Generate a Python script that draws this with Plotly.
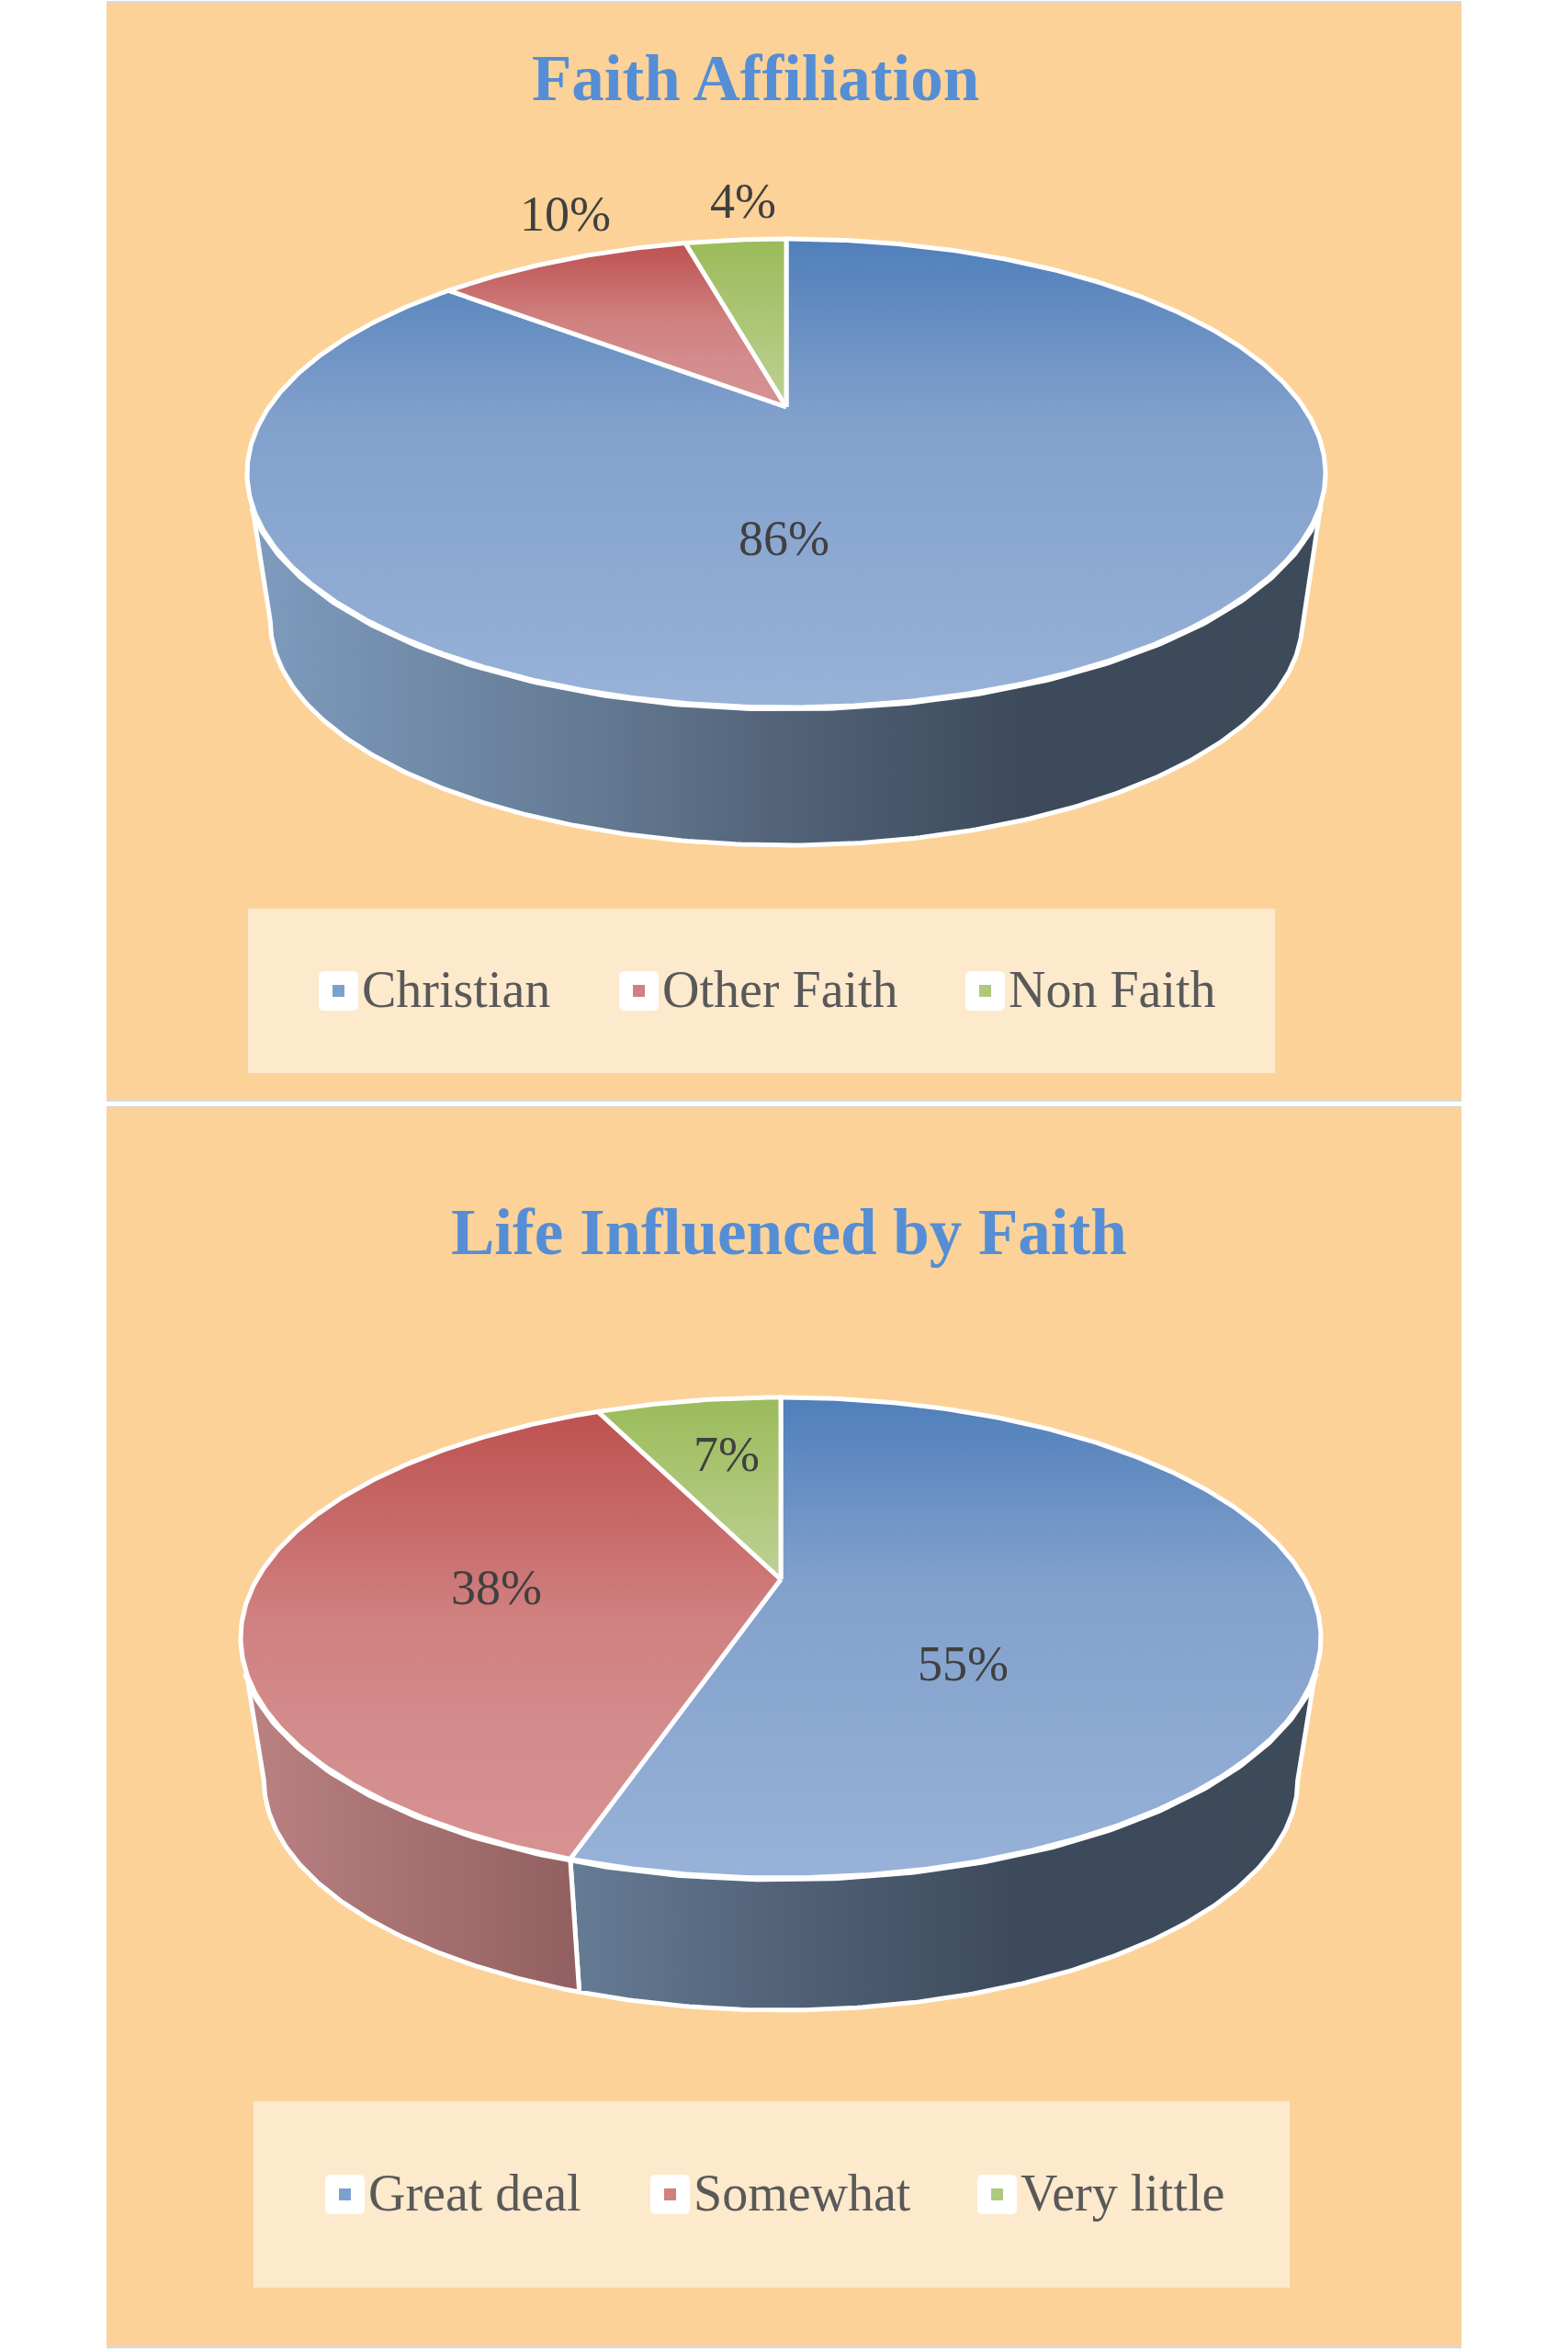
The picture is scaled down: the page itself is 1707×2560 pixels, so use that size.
"""
Two Excel-style 3D pies (Faith Affiliation, Life Influenced by Faith).
Plotly has no tilted pie, so the wedges are scatter fills worked out from the values.
"""

import math

import numpy as np
import plotly.graph_objects as go


# ── Data ──────────────────────────────────────────────────────────────────────

FAITH_TITLE = "Faith Affiliation"
FAITH_LABELS = ["Christian", "Other Faith", "Non Faith"]
FAITH_VALUES = [86, 10, 4]

INFLUENCE_TITLE = "Life Influenced by Faith"
INFLUENCE_LABELS = ["Great deal", "Somewhat", "Very little"]
INFLUENCE_VALUES = [55, 38, 7]


# ── Colours ───────────────────────────────────────────────────────────────────

PANEL = "#fcd298"
LEGEND_BG = "#fde9cc"
TITLE_COLOR = "#558ed5"
LABEL_COLOR = "#404040"
LEGEND_TEXT = "#595959"
FONT = "Liberation Serif"

TOP_SCALES = [
    [[0, "#4f7fba"], [0.38, "#81a0cc"], [1, "#98b2d8"]],
    [[0, "#bd5250"], [0.25, "#c76a69"], [0.45, "#d07f7f"], [0.7, "#d38b8b"], [1, "#d79292"]],
    [[0, "#9bbb59"], [1, "#bdd195"]],
]
WALL_SCALES = [
    [[0, "#7f9cbf"], [0.32, "#647a93"], [0.5, "#526278"], [0.72, "#3c4a5b"], [1, "#3c4a5a"]],
    [[0, "#bb8282"], [0.31, "#926060"], [1, "#6f4848"]],
    [[0, "#7f9450"], [1, "#4f5c32"]],
]
SWATCHES = ["#7ea0cf", "#d27f7f", "#adc97c"]


# ── Layout (page pixels) ──────────────────────────────────────────────────────

W, H = 1707, 2560
PANEL_X = (116, 1591)

FAITH_PIE = dict(cx=856, hub_y=443, top_y=260, bottom_y=770, rx=587, floor_y=920)
INFLUENCE_PIE = dict(cx=850, hub_y=1719, top_y=1521, bottom_y=2044, rx=588, floor_y=2188)
WALL_SCALE = 0.957   # the lower rim is further from the camera


def ring(pie, deg):
    """Perspective view of a unit circle; deg runs clockwise from 12 o'clock."""
    up = pie["hub_y"] - pie["top_y"]
    down = pie["bottom_y"] - pie["hub_y"]
    k = (down - up) / (down + up)
    b = up * (1 + k)
    a = pie["rx"] * math.sqrt(1 - k * k)
    t = np.radians(deg)
    den = 1 + k * np.cos(t)
    return pie["cx"] + a * np.sin(t) / den, pie["hub_y"] - b * np.cos(t) / den, k


def lower_ring(pie, deg):
    x, y, _ = ring(pie, deg)
    shift = pie["floor_y"] - WALL_SCALE * pie["bottom_y"]
    return pie["cx"] + WALL_SCALE * (x - pie["cx"]), WALL_SCALE * y + shift


def add_pie(fig, pie, labels, values):
    total = sum(values)
    edges = np.cumsum([0] + values) / total * 360
    _, _, k = ring(pie, np.array([0.0]))
    right = math.degrees(math.acos(-k))
    wall_from, wall_to = right, 360 - right

    # walls first, the top faces sit over their upper edge
    for i, label in enumerate(labels):
        start, end = max(edges[i], wall_from), min(edges[i + 1], wall_to)
        if start >= end:
            continue
        deg = np.linspace(start, end, int(end - start) * 2 + 2)
        x1, y1, _ = ring(pie, deg)
        x2, y2 = lower_ring(pie, deg)
        fig.add_trace(go.Scatter(
            x=np.r_[x1, x2[::-1], x1[0]],
            y=np.r_[y1, y2[::-1], y1[0]],
            mode="lines",
            line=dict(color="white", width=5),
            fill="toself",
            fillgradient=dict(type="horizontal", colorscale=WALL_SCALES[i],
                              start=pie["cx"] - pie["rx"], stop=pie["cx"] + pie["rx"]),
            hoverinfo="skip",
            showlegend=False,
        ))

    # the front rim reads heavier than the back one; stop short of the silhouette
    deg = np.linspace(wall_from + 8, wall_to - 8, 300)
    x, y, _ = ring(pie, deg)
    fig.add_trace(go.Scatter(x=x, y=y, mode="lines", line=dict(color="white", width=9),
                             hoverinfo="skip", showlegend=False))

    for i, label in enumerate(labels):
        deg = np.linspace(edges[i], edges[i + 1], int(edges[i + 1] - edges[i]) * 2 + 2)
        x, y, _ = ring(pie, deg)
        fig.add_trace(go.Scatter(
            x=np.r_[pie["cx"], x, pie["cx"]],
            y=np.r_[pie["hub_y"], y, pie["hub_y"]],
            mode="lines",
            line=dict(color="white", width=5),
            fill="toself",
            fillgradient=dict(type="vertical", colorscale=TOP_SCALES[i],
                              start=float(min(y.min(), pie["hub_y"])),
                              stop=float(max(y.max(), pie["hub_y"]))),
            name=label,
            text=f"{label}: {values[i]}%",
            hoverinfo="text",
            showlegend=False,
        ))


def rounded_rect(x0, y0, x1, y1, r=6):
    return (f"M{x0 + r},{y0} L{x1 - r},{y0} Q{x1},{y0} {x1},{y0 + r} "
            f"L{x1},{y1 - r} Q{x1},{y1} {x1 - r},{y1} "
            f"L{x0 + r},{y1} Q{x0},{y1} {x0},{y1 - r} "
            f"L{x0},{y0 + r} Q{x0},{y0} {x0 + r},{y0} Z")


def add_legend(fig, box, labels, chip_xs, chip_y):
    fig.add_shape(type="rect", x0=box[0], x1=box[1], y0=box[2], y1=box[3],
                  fillcolor=LEGEND_BG, line_width=0, layer="below")
    for i, label in enumerate(labels):
        cx = chip_xs[i]
        fig.add_shape(type="path", path=rounded_rect(cx, chip_y, cx + 43, chip_y + 43),
                      fillcolor="white", line_width=0)
        fig.add_shape(type="rect", x0=cx + 15, x1=cx + 28, y0=chip_y + 15, y1=chip_y + 28,
                      fillcolor=SWATCHES[i], line_width=0)
        fig.add_annotation(x=cx + 45, y=chip_y + 20, text=label, showarrow=False,
                           xanchor="left", yanchor="middle",
                           font=dict(family=FONT, size=56, color=LEGEND_TEXT))


def add_labels(fig, values, positions):
    for value, (x, y) in zip(values, positions):
        fig.add_annotation(x=x, y=y, text=f"{value}%", showarrow=False,
                           font=dict(family=FONT, size=54, color=LABEL_COLOR))


# ── Figure ────────────────────────────────────────────────────────────────────

fig = go.Figure()

# panels and the divider between them
fig.add_shape(type="rect", x0=PANEL_X[0], x1=PANEL_X[1], y0=1, y1=2556,
              fillcolor="#d9d9d9", line_width=0, layer="below")
fig.add_shape(type="rect", x0=PANEL_X[0], x1=PANEL_X[1], y0=3, y1=1197,
              fillcolor=PANEL, line_width=0, layer="below")
fig.add_shape(type="rect", x0=PANEL_X[0], x1=PANEL_X[1], y0=1199, y1=1204,
              fillcolor="white", line_width=0, layer="below")
fig.add_shape(type="rect", x0=PANEL_X[0], x1=PANEL_X[1], y0=1206, y1=2553,
              fillcolor=PANEL, line_width=0, layer="below")

add_pie(fig, FAITH_PIE, FAITH_LABELS, FAITH_VALUES)
add_pie(fig, INFLUENCE_PIE, INFLUENCE_LABELS, INFLUENCE_VALUES)

add_labels(fig, FAITH_VALUES, [(853, 586), (615, 233), (809, 219)])
add_labels(fig, INFLUENCE_VALUES, [(1048, 1811), (540, 1728), (791, 1583)])

add_legend(fig, (270, 1388, 989, 1168), FAITH_LABELS, [347, 674, 1051], 1057)
add_legend(fig, (276, 1404, 2287, 2490), INFLUENCE_LABELS, [354, 708, 1064], 2367)

fig.add_annotation(x=822, y=85, text=f"<b>{FAITH_TITLE}</b>", showarrow=False,
                   font=dict(family=FONT, size=71, color=TITLE_COLOR))
fig.add_annotation(x=859, y=1341, text=f"<b>{INFLUENCE_TITLE}</b>", showarrow=False,
                   font=dict(family=FONT, size=71, color=TITLE_COLOR))

fig.update_layout(
    width=W,
    height=H,
    margin=dict(l=0, r=0, t=0, b=0),
    paper_bgcolor="white",
    plot_bgcolor="white",
    showlegend=False,
    xaxis=dict(range=[0, W], visible=False, fixedrange=True),
    yaxis=dict(range=[H, 0], visible=False, fixedrange=True),
)

fig.write_html("out.html", config={"displayModeBar": False},
               post_script="document.body.style.margin = '0';")
